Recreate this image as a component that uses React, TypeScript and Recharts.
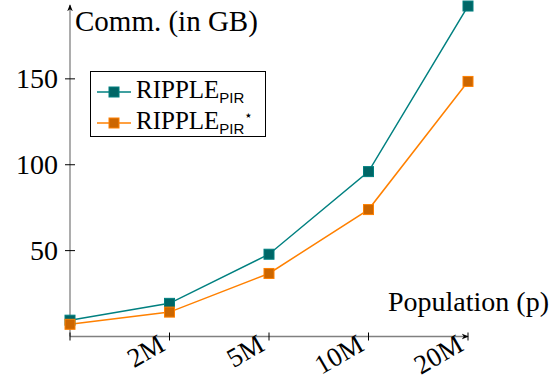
import { LineChart, Line, XAxis, YAxis } from 'recharts';

const categories = ["1M", "2M", "5M", "10M", "20M"];
const ripplePir = [9.5, 19.3, 47.9, 96, 192.4];
const ripplePirStar = [7.1, 14.2, 36.7, 73.9, 148.5];
const yTicks = [50, 100, 150];

const TEAL = "#008080";
const TEAL_DARK = "#006666";
const ORANGE = "#ff8000";
const ORANGE_DARK = "#cc6600";
const SERIF = "'Liberation Serif', 'DejaVu Serif', serif";
const SANS = "'Liberation Sans', 'DejaVu Sans', sans-serif";

const data = categories.map((name, i) => ({
  name,
  pir: ripplePir[i],
  pirStar: ripplePirStar[i],
}));

const squareDot = (fill: string, stroke: string) => (props: any) => {
  const { cx, cy, index } = props;
  if (cx == null || cy == null) return <g key={index} />;
  return (
    <rect key={index} x={cx - 5} y={cy - 5} width={10} height={10}
      fill={fill} stroke={stroke} strokeWidth={1} />
  );
};

const XTick = (props: any) => {
  const { x, y, payload, index } = props;
  return (
    <g>
      <line x1={x} x2={x} y1={y - 4} y2={y + 4} stroke="#000" strokeWidth={1} />
      {index > 0 && (
        <text transform={`translate(${x - 3},${y + 13}) rotate(-30)`} textAnchor="end"
          fontFamily={SERIF} fontSize={27} fill="#000">
          {payload.value}
        </text>
      )}
    </g>
  );
};

const YTick = (props: any) => {
  const { x, y, payload } = props;
  return (
    <g>
      <line x1={x - 5} x2={x + 5} y1={y} y2={y} stroke="#000" strokeWidth={1} />
      <text x={x - 12} y={y} textAnchor="end" dominantBaseline="central"
        fontFamily={SERIF} fontSize={28} fill="#000">
        {payload.value}
      </text>
    </g>
  );
};

const LegendIcon = ({ fill, stroke }: { fill: string; stroke: string }) => (
  <svg width={34} height={12} style={{ marginRight: 5 }}>
    <line x1={0} x2={34} y1={6} y2={6} stroke={stroke} strokeWidth={1.5} />
    <rect x={12} y={1} width={10} height={10} fill={fill} stroke={stroke} />
  </svg>
);

const sub = { fontFamily: SANS, fontSize: 15, position: "relative" as const, top: 5 };

const ChartLegend = () => (
  <div style={{
    position: "absolute", left: 90, top: 71,
    border: "1px solid #000", background: "#fff", width: 176, height: 66,
    boxSizing: "border-box", padding: "4px 0 0 6px", fontFamily: SERIF, fontSize: 25,
    color: "#000", lineHeight: "28px", textAlign: "left",
  }}>
    <div style={{ display: "flex", alignItems: "center", whiteSpace: "nowrap" }}>
      <LegendIcon fill={TEAL_DARK} stroke={TEAL} />
      <span>RIPPLE<span style={sub}>PIR</span></span>
    </div>
    <div style={{ display: "flex", alignItems: "center", whiteSpace: "nowrap" }}>
      <LegendIcon fill={ORANGE_DARK} stroke={ORANGE} />
      <span>RIPPLE<span style={sub}>PIR</span>
        <span style={{ fontSize: 14, position: "relative", top: -9 }}>{"\u22C6"}</span></span>
    </div>
  </div>
);

export default function App() {
  return (
    <div style={{ position: "absolute", left: 0, top: 0, width: 559, height: 381, background: "#fff" }}>
      <svg width={0} height={0} style={{ position: "absolute" }}>
        <defs>
          <marker id="axArrow" viewBox="0 0 10 10" refX={9} refY={5} markerWidth={7} markerHeight={7}
            markerUnits="userSpaceOnUse" orient="auto-start-reverse">
            <path d="M0,1 L10,5 L0,9 L3,5 Z" fill="#000" />
          </marker>
        </defs>
      </svg>
      <LineChart width={559} height={381} data={data}
        margin={{ top: 5, right: 91, left: 0, bottom: 0 }}>
        <XAxis dataKey="name" scale="point" padding={{ left: 0, right: 0 }} height={44.5}
          tickSize={0} tickMargin={0} tickLine={false} tick={<XTick />} interval={0}
          axisLine={{ stroke: "#808080", strokeWidth: 1.3, markerEnd: "url(#axArrow)" }}
          label={{
            content: (p: any) => (
              <text x={p.viewBox.x + p.viewBox.width + 81} y={p.viewBox.y - 26} textAnchor="end"
                fontFamily={SERIF} fontSize={28} fill="#000">Population (p)</text>
            ),
          }} />
        <YAxis domain={[0, 193]} ticks={yTicks} width={70} tickSize={0} tickMargin={0}
          tickLine={false} tick={<YTick />} interval={0}
          axisLine={{ stroke: "#808080", strokeWidth: 1.3, markerStart: "url(#axArrow)" }}
          label={{
            content: (p: any) => (
              <text x={p.viewBox.x + p.viewBox.width + 5} y={p.viewBox.y + 26}
                fontFamily={SERIF} fontSize={29} fill="#000">Comm. (in GB)</text>
            ),
          }} />
        <Line dataKey="pir" name="RIPPLE_PIR" stroke={TEAL} strokeWidth={1.5}
          dot={squareDot(TEAL_DARK, TEAL)} activeDot={false} isAnimationActive={false} />
        <Line dataKey="pirStar" name="RIPPLE_PIR*" stroke={ORANGE} strokeWidth={1.5}
          dot={squareDot(ORANGE_DARK, ORANGE)} activeDot={false} isAnimationActive={false} />
      </LineChart>
      <ChartLegend />
    </div>
  );
}
